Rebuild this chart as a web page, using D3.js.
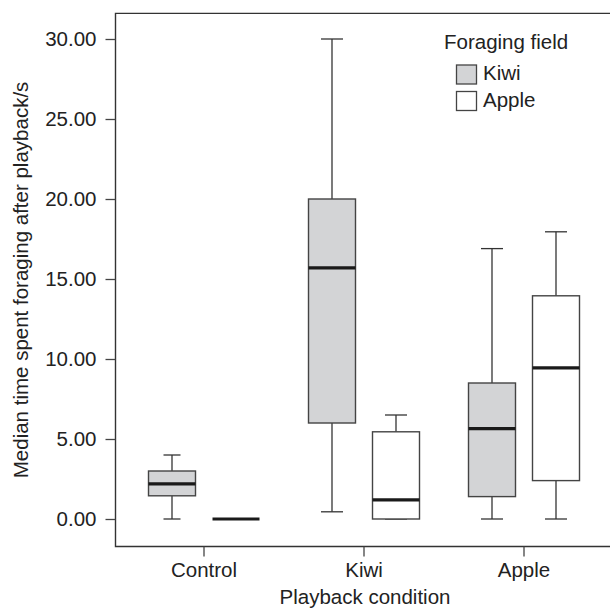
<!DOCTYPE html>
<html>
<head>
<meta charset="utf-8">
<script src="https://cdn.jsdelivr.net/npm/d3@7"></script>
<style>
  body { margin: 0; background: #fff; }
  text { font-family: "Liberation Sans", Arial, sans-serif; fill: #222; }
</style>
</head>
<body>
<div id="chart"></div>
<script>
// data
var conditions = ["Control", "Kiwi", "Apple"];
var fields = ["Kiwi", "Apple"];
var fieldFill = ["#d3d4d6", "#ffffff"];
// [min, q1, median, q3, max] per condition, per foraging field
var kiwiField  = [[0, 1.45, 2.2, 3.0, 4.0], [0.45, 6.0, 15.7, 20.0, 30.0], [0, 1.4, 5.65, 8.5, 16.9]];
var appleField = [[0, 0, 0, 0, 0], [0, 0, 1.2, 5.45, 6.5], [0, 2.4, 9.45, 13.95, 17.95]];
var yTicks = [0, 5, 10, 15, 20, 25, 30];
var yExtent = [-1.72, 31.6];

var width = 610, height = 611;
var svg = d3.select("#chart").append("svg").attr("width", width).attr("height", height);

var y = d3.scaleLinear().domain([0, 30]).range([519, 39]);
var x = d3.scaleBand().domain(conditions).range([124, 604]);
var xSub = d3.scaleBand().domain(fields).range([-64, 64]);
var plotLeft = 115.5, plotTop = y(yExtent[1]), plotBottom = y(yExtent[0]);
var boxW = 47, capW = 22;

var boxes = [];
conditions.forEach(function(c, i) {
    [kiwiField, appleField].forEach(function(arr, j) {
        var v = arr[i];
        boxes.push({cond: c, field: fields[j], fill: fieldFill[j],
            min: v[0], q1: v[1], med: v[2], q3: v[3], max: v[4]});
    });
});

// frame (left, top, bottom)
svg.append("path")
    .attr("d", "M" + width + "," + plotTop + "H" + plotLeft + "V" + plotBottom + "H" + width)
    .attr("fill", "none").attr("stroke", "#333").attr("stroke-width", 1.4);

// y axis
var yAxis = d3.axisLeft(y).tickValues(yTicks).tickSize(10).tickPadding(9)
    .tickFormat(d3.format(".2f"));
var gy = svg.append("g").attr("transform", "translate(" + plotLeft + ",0)").call(yAxis);
gy.select(".domain").remove();
gy.selectAll(".tick line").attr("stroke", "#444").attr("stroke-width", 1.3);
gy.selectAll(".tick text").style("font-size", "20.5px").attr("fill", "#222")
    .style("font-family", "Liberation Sans, Arial, sans-serif");

// x axis
var xAxis = d3.axisBottom(x).tickSize(10).tickPadding(6);
var gx = svg.append("g").attr("transform", "translate(0," + plotBottom + ")").call(xAxis);
gx.select(".domain").remove();
gx.selectAll(".tick line").attr("stroke", "#444").attr("stroke-width", 1.3);
gx.selectAll(".tick text").style("font-size", "20.5px").attr("fill", "#222")
    .style("font-family", "Liberation Sans, Arial, sans-serif");

// boxes
var g = svg.selectAll("g.box").data(boxes).enter().append("g")
    .attr("class", "box")
    .attr("transform", function(d) {
        return "translate(" + (x(d.cond) + x.bandwidth() / 2 + xSub(d.field) + xSub.bandwidth() / 2) + ",0)";
    });

g.filter(function(d) { return d.max > d.min; }).each(function(d) {
    var s = d3.select(this);
    var cw = d.cond === "Control" ? 17 : capW;
    s.append("line").attr("x1", 0).attr("x2", 0).attr("y1", y(d.max)).attr("y2", y(d.q3))
        .attr("stroke", "#333").attr("stroke-width", 1.3);
    s.append("line").attr("x1", 0).attr("x2", 0).attr("y1", y(d.q1)).attr("y2", y(d.min))
        .attr("stroke", "#333").attr("stroke-width", 1.3);
    s.append("line").attr("x1", -cw / 2).attr("x2", cw / 2).attr("y1", y(d.max)).attr("y2", y(d.max))
        .attr("stroke", "#333").attr("stroke-width", 1.3);
    s.append("line").attr("x1", -cw / 2).attr("x2", cw / 2).attr("y1", y(d.min)).attr("y2", y(d.min))
        .attr("stroke", "#333").attr("stroke-width", 1.3);
    s.append("rect").attr("x", -boxW / 2).attr("width", boxW)
        .attr("y", y(d.q3)).attr("height", y(d.q1) - y(d.q3))
        .attr("fill", d.fill).attr("stroke", "#444").attr("stroke-width", 1.4);
});

g.append("line")
    .attr("x1", -boxW / 2).attr("x2", boxW / 2)
    .attr("y1", function(d) { return y(d.med); }).attr("y2", function(d) { return y(d.med); })
    .attr("stroke", "#1a1a1a").attr("stroke-width", 3.2);

// axis titles
svg.append("text")
    .attr("transform", "translate(28," + ((plotTop + plotBottom) / 2) + ") rotate(-90)")
    .attr("text-anchor", "middle").style("font-size", "20.5px")
    .text("Median time spent foraging after playback/s");

svg.append("text")
    .attr("x", x("Kiwi") + x.bandwidth() / 2 + 1).attr("y", 604)
    .attr("text-anchor", "middle").style("font-size", "20.5px")
    .text("Playback condition");

// legend
var legend = svg.append("g").attr("transform", "translate(444,0)");
legend.append("text").attr("x", 0).attr("y", 49).style("font-size", "20.5px").text("Foraging field");
var items = legend.selectAll("g.item").data(fields).enter().append("g")
    .attr("transform", function(d, i) { return "translate(0," + (i * 26.5) + ")"; });
items.append("rect").attr("x", 12.5).attr("y", 65).attr("width", 20).attr("height", 19)
    .attr("fill", function(d, i) { return fieldFill[i]; })
    .attr("stroke", "#444").attr("stroke-width", 1.3);
items.append("text").attr("x", 39).attr("y", 80).style("font-size", "20.5px")
    .text(function(d) { return d; });
</script>
</body>
</html>
